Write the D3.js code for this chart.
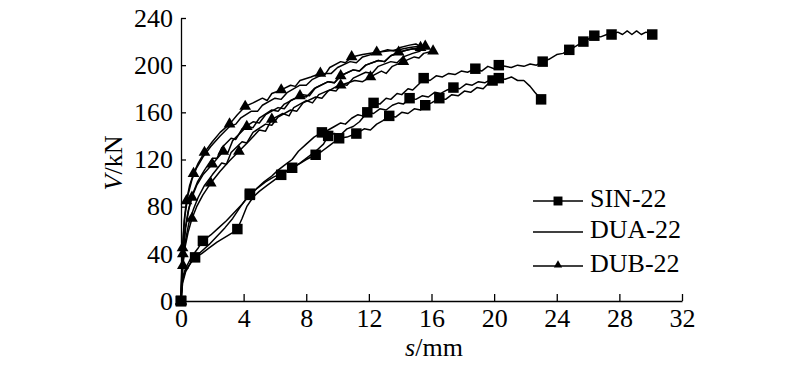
<!DOCTYPE html>
<html>
<head>
<meta charset="utf-8">
<script src="https://cdn.jsdelivr.net/npm/d3@7"></script>
<style>
  body { margin: 0; background: #fff; }
  svg text { font-family: "Liberation Serif", "Times New Roman", serif; fill: #000; }
</style>
</head>
<body>
<div id="chart"></div>
<script>
// Tick values
const xTicks = [0, 4, 8, 12, 16, 20, 24, 28, 32];
const yTicks = [0, 40, 80, 120, 160, 200, 240];

// SIN-22 curves (s in mm, V in kN)
const sin1 = [[0,0],[0.1,18],[0.3,26],[0.6,32],[0.9,37],[1.3,42],[1.8,48],[2.3,55],[2.8,62],[3.3,70],[3.8,80],[4.4,91],[4.8,95],[5.3,101],[5.8,106],[6.2,111],[6.7,116],[7.1,120],[7.5,127],[8,133],[8.5,139],[9,143],[9.4,145],[9.8,148],[10.2,151],[10.5,150],[10.9,155],[11.3,158],[11.6,157],[12,163],[12.3,168],[12.7,167],[13.1,172],[13.4,171],[13.8,176],[14.1,175],[14.5,180],[14.8,179],[15.2,184],[15.5,189],[15.9,187],[16.3,191],[16.7,190],[17.1,193],[17.5,192],[17.9,195],[18.3,194],[18.8,197],[19.2,195],[19.6,199],[20,197],[20.3,200],[20.7,199],[21.1,198],[21.5,200],[21.9,199],[22.3,201],[22.7,200],[23.1,203],[23.5,205],[24,209],[24.4,210],[24.8,213],[25.2,216],[25.7,220],[26,222],[26.4,225],[26.8,224],[27.2,226],[27.5,226],[27.9,228],[28.2,226],[28.5,229],[28.8,226],[29.1,229],[29.4,226],[29.7,228],[30.1,226]];
const sin1Marks = [[0,0],[4.4,91],[9,143],[12.3,168],[15.5,189],[18.8,197],[20.3,200],[23.1,203],[24.8,213],[25.7,220],[26.4,225],[27.5,226],[30.1,226]];

const sin2 = [[0,0],[0.1,20],[0.3,28],[0.7,38],[1.1,45],[1.4,51],[1.9,56],[2.4,62],[2.9,68],[3.4,75],[3.9,82],[4.4,90],[4.9,96],[5.4,101],[5.9,105],[6.4,108],[6.8,111],[7.1,113],[7.6,117],[8.1,122],[8.6,127],[9.1,133],[9.4,140],[9.8,142],[10.2,141],[10.6,146],[11,148],[11.4,152],[11.9,160],[12.3,159],[12.7,163],[13.1,162],[13.5,166],[13.9,168],[14.2,167],[14.6,172],[15,171],[15.4,174],[15.8,173],[16.2,177],[16.6,176],[17,179],[17.4,181],[17.8,180],[18.2,184],[18.6,183],[19,186],[19.4,185],[19.8,188],[20.3,189],[20.7,188],[21.1,190],[21.5,187],[21.9,187],[22.3,182],[22.6,177],[23,171]];
const sin2Marks = [[0,0],[1.4,51],[4.4,90],[7.1,113],[9.4,140],[11.9,160],[14.6,172],[17.4,181],[20.3,189],[23,171]];

const sin3 = [[0,0],[0.1,15],[0.3,25],[0.6,32],[0.9,37],[1.3,40],[1.8,45],[2.3,50],[2.8,54],[3.3,58],[3.6,61],[3.9,70],[4.2,80],[4.6,88],[5,93],[5.5,98],[6,103],[6.4,107],[6.9,111],[7.4,115],[8,120],[8.6,124],[9,127],[9.5,132],[10.1,138],[10.6,139],[11.2,142],[11.7,146],[12.1,145],[12.5,150],[12.9,153],[13.3,157],[13.7,156],[14.1,160],[14.5,159],[14.9,163],[15.3,162],[15.6,166],[16,168],[16.5,172],[16.9,171],[17.3,175],[17.7,174],[18.1,178],[18.5,177],[18.9,181],[19.3,180],[19.6,184],[19.9,187],[20.2,186]];
const sin3Marks = [[0,0],[0.9,37],[3.6,61],[6.4,107],[8.6,124],[10.1,138],[11.2,142],[13.3,157],[15.6,166],[16.5,172],[19.9,187]];

// DUA-22 curves
const dua1 = [[0,0],[0.05,28],[0.12,50],[0.25,72],[0.45,90],[0.7,103],[1,113],[1.4,122],[1.9,131],[2.5,140],[3.1,148],[3.5,150],[3.8,155],[4.5,161],[4.9,161],[5.2,166],[6,172],[6.4,171],[6.8,177],[7.6,183],[8,183],[8.4,188],[9.2,193],[9.6,193],[10,198],[10.8,203],[11.2,202],[11.6,207],[12.4,210],[13.2,213],[13.6,212],[14,215],[14.6,217],[15,218],[15.4,215]];
const dua2 = [[0,0],[0.06,22],[0.15,42],[0.3,62],[0.5,78],[0.75,91],[1.05,101],[1.5,111],[2,121],[2.3,121],[2.6,130],[3.2,138],[3.5,137],[3.9,146],[4.6,152],[5,151],[5.4,158],[6.2,164],[6.6,163],[7,170],[7.8,175],[8.2,174],[8.6,181],[9.4,186],[9.8,185],[10.2,191],[11,196],[11.4,195],[11.8,200],[12.6,204],[13,203],[13.4,208],[14.2,212],[14.8,214],[15.2,213]];
const dua3 = [[0,0],[0.06,18],[0.15,36],[0.3,52],[0.5,66],[0.8,78],[1.1,88],[1.5,98],[2,107],[2.6,117],[2.9,116],[3.2,126],[3.9,135],[4.2,134],[4.6,143],[5.4,150],[5.8,149],[6.2,156],[7,162],[7.4,161],[7.8,168],[8.6,173],[9,172],[9.4,178],[10.2,184],[10.6,183],[11,189],[11.8,194],[12.2,193],[12.6,199],[13.4,203],[13.8,202],[14.2,207],[14.8,210],[15.3,212]];

// DUB-22 curves
const dub1 = [[0,0],[0.05,25],[0.1,45],[0.2,68],[0.35,85],[0.55,98],[0.8,108],[1.1,117],[1.5,126],[2,135],[2.5,143],[3.1,150],[3.6,158],[4.1,165],[4.6,168],[5.2,172],[5.5,170],[5.8,176],[6.4,179],[7,183],[7.3,182],[7.6,187],[8.3,190],[8.9,193],[9.2,192],[9.5,198],[10.2,203],[10.5,202],[10.9,207],[11.6,209],[12.5,211],[13.2,212],[13.9,213],[14.6,215],[15.2,216],[15.6,216]];
const dub1Marks = [[0,0],[0.1,45],[0.35,85],[0.8,108],[1.5,126],[3.1,150],[4.1,165],[6.4,179],[8.9,193],[10.9,207],[12.5,211],[15.6,216]];

const dub2 = [[0,0],[0.05,20],[0.12,40],[0.25,60],[0.45,76],[0.7,88],[1,98],[1.4,107],[2,116],[2.7,127],[3,126],[3.3,136],[4.2,148],[4.6,147],[5,155],[5.8,162],[6.2,161],[6.6,167],[7.6,174],[8,173],[8.5,180],[9.4,186],[9.8,185],[10.2,191],[11,196],[11.4,195],[11.8,200],[12.6,204],[13,203],[13.4,208],[13.9,211],[14.5,213],[15.3,215]];
const dub2Marks = [[0,0],[0.12,40],[0.7,88],[2,116],[2.7,127],[4.2,148],[7.6,174],[10.2,191],[13.9,211],[15.3,215]];

const dub3 = [[0,0],[0.05,15],[0.12,30],[0.25,45],[0.45,58],[0.7,70],[1,80],[1.4,90],[1.9,100],[2.5,110],[3.1,119],[3.7,127],[4.3,135],[5,145],[5.4,144],[5.8,154],[6.5,159],[6.9,157],[7.2,164],[8,170],[8.4,168],[8.8,175],[9.5,179],[9.9,178],[10.2,183],[11.1,187],[11.6,186],[12.1,190],[12.8,195],[13.1,193],[13.5,199],[14.2,203],[14.9,207],[15.2,206],[15.5,210],[16.1,212]];
const dub3Marks = [[0,0],[0.12,30],[0.7,70],[1.9,100],[3.7,127],[5.8,154],[10.2,183],[12.1,190],[14.2,203],[16.1,212]];

const legendNames = ["SIN-22", "DUA-22", "DUB-22"];

const W = 800, H = 370;

const svg = d3.select("#chart")
  .append("svg")
  .attr("width", W)
  .attr("height", H);

const x = d3.scaleLinear().domain([0, 32]).range([181, 682]);
const y = d3.scaleLinear().domain([0, 240]).range([301, 18]);

// X axis, ticks point inward
const xAxis = svg.append("g")
  .attr("transform", `translate(0,${y(0)})`)
  .call(d3.axisBottom(x).tickValues(xTicks).tickSizeInner(-7).tickSizeOuter(0).tickPadding(7.5));

// Y axis, ticks point inward
const yAxis = svg.append("g")
  .attr("transform", `translate(${x(0)},0)`)
  .call(d3.axisLeft(y).tickValues(yTicks).tickSizeInner(-5).tickSizeOuter(0).tickPadding(8));

[xAxis, yAxis].forEach(g => {
  g.selectAll("path, line").attr("stroke", "#000").attr("stroke-width", 1.3);
  g.selectAll("text").style("font-size", "26px").attr("fill", "#000");
});

// Axis titles
svg.append("text")
  .attr("x", 434)
  .attr("y", 356)
  .attr("text-anchor", "middle")
  .style("font-size", "26px")
  .html('<tspan font-style="italic">s</tspan>/mm');

svg.append("text")
  .attr("transform", "translate(122,163) rotate(-90)")
  .attr("text-anchor", "middle")
  .style("font-size", "26px")
  .html('<tspan font-style="italic">V</tspan>/kN');

const line = d3.line().x(d => x(d[0])).y(d => y(d[1]));

const plot = svg.append("g");

function drawLine(data) {
  plot.append("path")
    .datum(data)
    .attr("d", line)
    .attr("fill", "none")
    .attr("stroke", "#000")
    .attr("stroke-width", 1.5)
    .attr("stroke-linejoin", "round");
}

const squareSym = d3.symbol().type(d3.symbolSquare).size(110);
const triSym = d3.symbol().type(d3.symbolTriangle).size(60);

function drawMarks(data, sym) {
  plot.selectAll(null)
    .data(data)
    .join("path")
    .attr("transform", d => `translate(${x(d[0])},${y(d[1])})`)
    .attr("d", sym)
    .attr("fill", "#000");
}

[dua1, dua2, dua3].forEach(drawLine);
[dub1, dub2, dub3].forEach(drawLine);
drawMarks(dub1Marks, triSym);
drawMarks(dub2Marks, triSym);
drawMarks(dub3Marks, triSym);

[sin1, sin2, sin3].forEach(drawLine);
drawMarks(sin1Marks, squareSym);
drawMarks(sin2Marks, squareSym);
drawMarks(sin3Marks, squareSym);

// Legend
const legend = svg.append("g");
const rowY = [207, 238, 272];
legendNames.forEach((name, i) => {
  const ly = rowY[i] - 6;
  legend.append("line")
    .attr("x1", 533).attr("x2", 583)
    .attr("y1", ly).attr("y2", ly)
    .attr("stroke", "#000")
    .attr("stroke-width", 1.4);
  if (i === 0) {
    legend.append("path")
      .attr("transform", `translate(558,${ly})`)
      .attr("d", d3.symbol().type(d3.symbolSquare).size(80))
      .attr("fill", "#000");
  }
  if (i === 2) {
    legend.append("path")
      .attr("transform", `translate(558,${ly - 1})`)
      .attr("d", d3.symbol().type(d3.symbolTriangle).size(30))
      .attr("fill", "#000");
  }
  legend.append("text")
    .attr("x", 590)
    .attr("y", rowY[i])
    .style("font-size", "26px")
    .text(name);
});
</script>
</body>
</html>
